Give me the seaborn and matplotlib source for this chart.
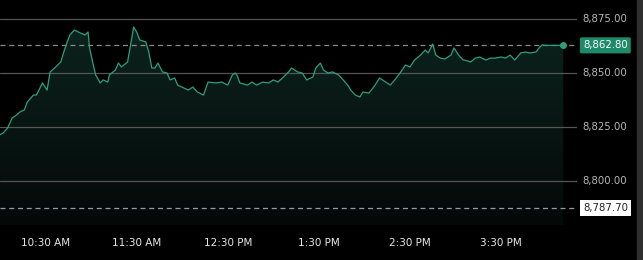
import numpy as np
import pandas as pd
import matplotlib
matplotlib.use("Agg")
import matplotlib.pyplot as plt
import matplotlib.transforms as mtransforms
from matplotlib.colors import LinearSegmentedColormap
import seaborn as sns

# ---- data (minutes since 10:00, price) ----
minutes = [0, 2, 5, 8, 11, 13, 16, 18, 22, 24, 28, 31, 33, 36, 40, 42, 44, 46, 49, 53,
           56, 58, 59, 61, 63, 66, 68, 71, 72, 76, 78, 80, 84, 86, 88, 90, 92, 96, 98, 100,
           102, 104, 107, 110, 112, 115, 117, 121, 124, 127, 130, 134, 137, 142, 146, 150,
           153, 155, 156, 158, 163, 166, 169, 173, 177, 180, 183, 186, 190, 192, 196, 199,
           202, 206, 208, 211, 213, 216, 219, 223, 226, 229, 231, 234, 237, 239, 243, 247,
           250, 254, 257, 260, 264, 267, 270, 273, 277, 280, 282, 285, 287, 290, 293, 297,
           299, 302, 305, 306, 310, 313, 316, 320, 323, 326, 330, 333, 336, 339, 343, 346,
           349, 353, 355, 357, 359, 371]
prices = [8821.5, 8822.2, 8824.5, 8829.2, 8830.6, 8831.9, 8832.9, 8836.6, 8839.8, 8839.8,
          8845.4, 8842.1, 8850.5, 8852.3, 8855.1, 8859.7, 8863.9, 8867.6, 8869.9, 8868.5,
          8867.6, 8869.0, 8861.6, 8855.1, 8849.1, 8845.4, 8846.8, 8845.8, 8849.1, 8851.4,
          8854.6, 8852.8, 8855.1, 8863.0, 8871.3, 8869.0, 8865.3, 8864.4, 8859.7, 8852.3,
          8852.3, 8854.6, 8850.5, 8850.0, 8846.8, 8847.7, 8844.4, 8843.1, 8842.1, 8843.5,
          8841.2, 8839.8, 8845.8, 8845.4, 8845.8, 8844.4, 8849.1, 8850.0, 8849.1, 8845.4,
          8844.4, 8845.8, 8844.4, 8845.8, 8845.4, 8846.8, 8845.8, 8847.7, 8850.5, 8852.3,
          8850.5, 8850.0, 8846.8, 8848.1, 8852.3, 8854.6, 8851.4, 8850.0, 8850.5, 8849.1,
          8846.8, 8844.4, 8842.1, 8839.8, 8838.9, 8841.2, 8840.7, 8844.4, 8847.7, 8845.8,
          8844.4, 8846.8, 8850.5, 8853.7, 8852.8, 8856.0, 8858.3, 8860.6, 8859.3, 8863.4,
          8858.3, 8856.9, 8856.5, 8858.3, 8861.6, 8858.3, 8856.0, 8856.0, 8855.1, 8856.9,
          8857.4, 8856.0, 8856.9, 8856.9, 8857.4, 8856.9, 8858.3, 8856.0, 8859.3, 8859.7,
          8859.3, 8859.7, 8861.6, 8863.0, 8862.8, 8862.8]

grid_levels = [8875.0, 8850.0, 8825.0, 8800.0]
grid_labels = ["8,875.00", "8,850.00", "8,825.00", "8,800.00"]
last_price = 8862.80
last_label = "8,862.80"
ref_price = 8787.70
ref_label = "8,787.70"
tick_minutes = [30, 90, 150, 210, 270, 330]
tick_labels = ["10:30 AM", "11:30 AM", "12:30 PM", "1:30 PM", "2:30 PM", "3:30 PM"]

df = pd.DataFrame({"t": minutes, "price": prices})

# ---- style ----
W, H = 643, 260
fig = plt.figure(figsize=(W / 100, H / 100), dpi=100, facecolor="black")
sns.set_style("dark")
plt.rcParams["font.family"] = ["DejaVu Sans"]

ax_l, ax_r = 0 / W, 577 / W
ax_top_px, ax_bot_px = 5, 225
ax = fig.add_axes([ax_l, 1 - ax_bot_px / H, ax_r - ax_l, (ax_bot_px - ax_top_px) / H])
ax.set_facecolor("black")
for s in ax.spines.values():
    s.set_visible(False)

# y scale: 8875 at px 19, 8800 at px 181
ppu = (181 - 19) / 75.0
ytop = 8875 + (19 - ax_top_px) / ppu
ybot = 8875 - (ax_bot_px - 19) / ppu
ax.set_ylim(ybot, ytop)
ax.set_xlim(0, 380)

line_color = "#2f9e7c"

# gridlines
for lv in grid_levels:
    ax.axhline(lv, color="#555555", lw=0.9, zorder=1)
ax.axhline(last_price, color="#8a8a8a", lw=0.9, ls=(0, (4, 3)), zorder=1)
ax.axhline(ref_price, color="#9a9a9a", lw=0.9, ls=(0, (4, 3)), zorder=1)

# gradient fill under the line
poly = ax.fill_between(df["t"], df["price"], ybot, color="none", lw=0)
cmap = LinearSegmentedColormap.from_list("g", ["#040908", "#0c231d"])
grad = np.linspace(0, 1, 256).reshape(-1, 1)
im = ax.imshow(grad, cmap=cmap, aspect="auto", origin="lower",
               extent=[0, 380, ybot, 8872], zorder=0.5)
path = poly.get_paths()[0]
im.set_clip_path(path, transform=ax.transData)

sns.lineplot(data=df, x="t", y="price", ax=ax, color=line_color, lw=0.9, zorder=3)
ax.plot([minutes[-1]], [prices[-1]], "o", color=line_color, ms=4, zorder=4)

ax.set_xlabel("")
ax.set_ylabel("")
ax.set_yticks([])
ax.set_xticks(tick_minutes)
ax.set_xticklabels(tick_labels, color="#e8e8e8", fontsize=7.5)
ax.tick_params(axis="x", length=0, pad=9)
ax.grid(False)

# right-side price labels
tr = mtransforms.blended_transform_factory(fig.transFigure, ax.transData)
for lv, lab in zip(grid_levels, grid_labels):
    fig.text(582 / W, lv, lab, transform=tr, color="#b8b8b8", fontsize=7.3,
             va="center", ha="left")
fig.text(583 / W, last_price, last_label, transform=tr, color="white", fontsize=7.3,
         va="center", ha="left",
         bbox=dict(boxstyle="round,pad=0.3,rounding_size=0.15", fc="#1d8a69", ec="none"))
fig.text(583 / W, ref_price, ref_label, transform=tr, color="#222222", fontsize=7.3,
         va="center", ha="left",
         bbox=dict(boxstyle="square,pad=0.3", fc="white", ec="none"))

# right scrollbar strip
fig.patches.append(plt.Rectangle((637 / W, 0), 6 / W, 1, transform=fig.transFigure,
                                 color="#2e2e2e", zorder=0))

fig.savefig("out.png", dpi=100, facecolor="black")
